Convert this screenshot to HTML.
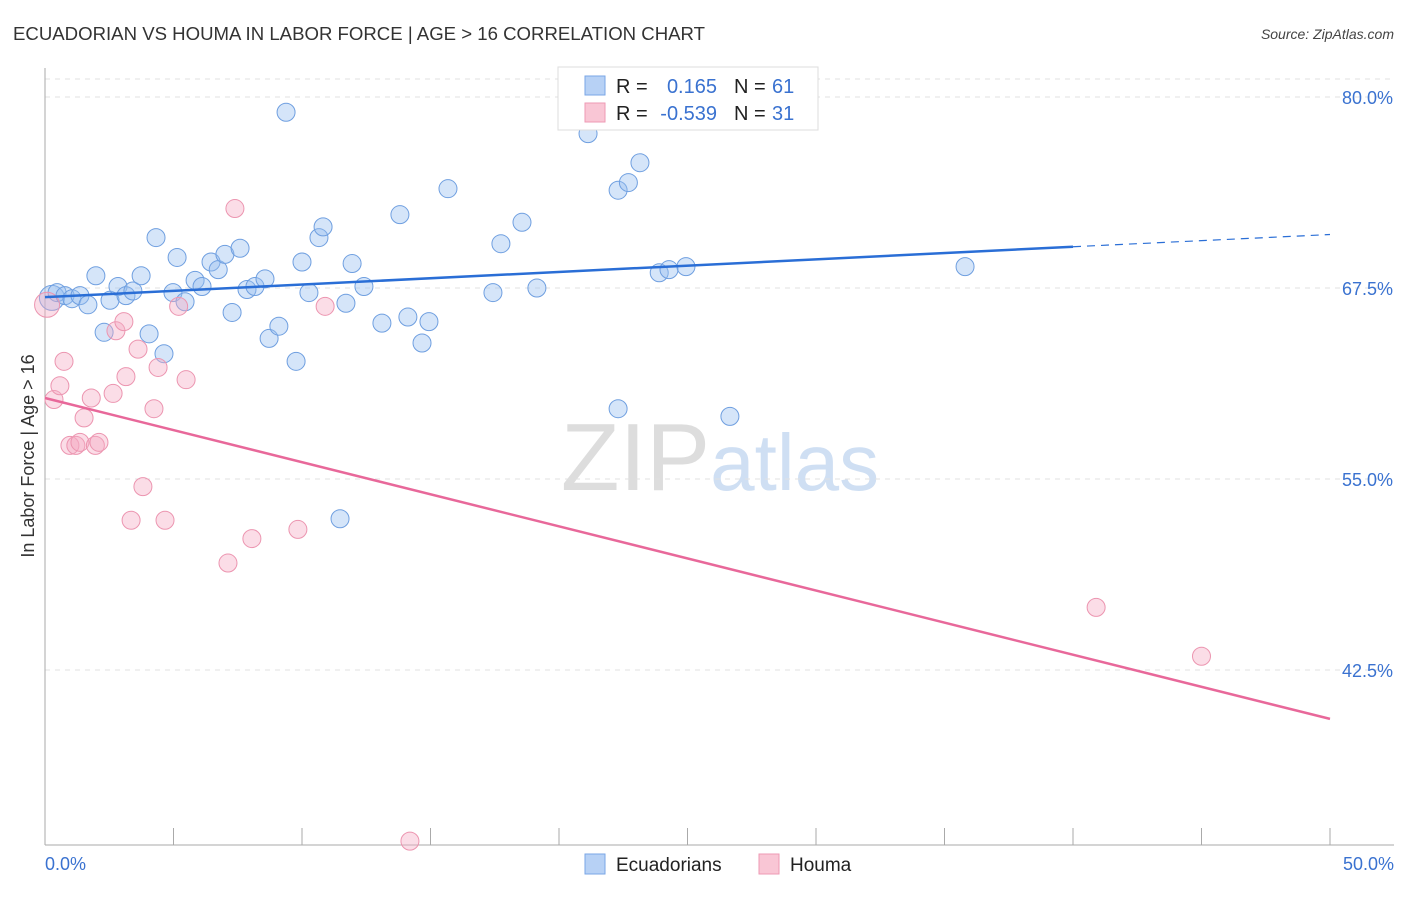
<!DOCTYPE html>
<html><head><meta charset="utf-8"><style>
body{margin:0;background:#fff;font-family:"Liberation Sans",sans-serif;}
svg text{font-family:"Liberation Sans",sans-serif;}
</style></head><body>
<svg id="chart" width="1406" height="892" xmlns="http://www.w3.org/2000/svg">
<text x="13" y="40" font-size="18.5" fill="#333" textLength="692" lengthAdjust="spacingAndGlyphs">ECUADORIAN VS HOUMA IN LABOR FORCE | AGE &gt; 16 CORRELATION CHART</text>
<text x="1394" y="39" font-size="14" font-style="italic" fill="#444" text-anchor="end">Source: ZipAtlas.com</text>
<text x="720" y="490" font-size="96" text-anchor="middle" fill="#ddd" font-family="Liberation Serif"><tspan>ZIP</tspan><tspan fill="#cfdff3" font-family="Liberation Sans" font-size="80">atlas</tspan></text>
<text transform="translate(34,456) rotate(-90)" font-size="18" fill="#333" text-anchor="middle">In Labor Force | Age &gt; 16</text>
<g id="grid"></g><g id="axes"></g><g id="marks"></g>
<g>
<rect x="558" y="67" width="260" height="63" fill="#fff" stroke="#ddd"/>
<rect x="585" y="76" width="20" height="19" fill="#b7d1f5" stroke="#7aa6e6"/>
<rect x="585" y="103" width="20" height="19" fill="#f9c6d5" stroke="#ee9ab4"/>
<text x="616" y="93" font-size="20" fill="#222">R =</text><text x="717" y="93" font-size="20" fill="#3a72d0" text-anchor="end">0.165</text>
<text x="734" y="93" font-size="20" fill="#222">N =</text><text x="772" y="93" font-size="20" fill="#3a72d0">61</text>
<text x="616" y="120" font-size="20" fill="#222">R =</text><text x="717" y="120" font-size="20" fill="#3a72d0" text-anchor="end">-0.539</text>
<text x="734" y="120" font-size="20" fill="#222">N =</text><text x="772" y="120" font-size="20" fill="#3a72d0">31</text>
</g>
<g>
<rect x="585" y="854" width="20" height="20" fill="#b7d1f5" stroke="#7aa6e6"/>
<text x="616" y="871" font-size="19" fill="#222">Ecuadorians</text>
<rect x="759" y="854" width="20" height="20" fill="#f9c6d5" stroke="#ee9ab4"/>
<text x="790" y="871" font-size="19" fill="#222">Houma</text>
</g>
</svg>
<script>
const yTicks=[80,67.5,55,42.5];
const yTickLabels=["80.0%","67.5%","55.0%","42.5%"];
const xTickLabels=["0.0%","50.0%"];
const blueX=[0.27,0.47,0.78,1.05,1.36,1.67,1.98,2.3,2.53,2.84,3.15,3.42,3.74,4.05,4.32,4.63,4.98,5.14,5.45,5.84,6.11,6.46,6.74,7.0,7.28,7.59,7.86,8.17,8.56,8.72,9.1,9.38,9.77,10.0,10.27,10.66,10.82,11.48,11.71,11.95,12.41,13.11,13.81,14.12,14.67,14.94,15.68,17.43,17.74,18.56,19.14,21.13,22.3,22.3,22.7,23.15,23.9,24.28,24.94,26.65,35.8];
const blueY=[66.85,67.2,67.0,66.8,67.0,66.4,68.3,64.6,66.7,67.6,67.0,67.3,68.3,64.5,70.8,63.2,67.2,69.5,66.6,68.0,67.6,69.2,68.7,69.7,65.9,70.1,67.4,67.6,68.1,64.2,65.0,79.0,62.7,69.2,67.2,70.8,71.5,52.4,66.5,69.1,67.6,65.2,72.3,65.6,63.9,65.3,74.0,67.2,70.4,71.8,67.5,77.6,59.6,73.9,74.4,75.7,68.5,68.7,68.9,59.1,68.9];
const pinkX=[0.08,0.35,0.58,0.74,0.97,1.2,1.36,1.52,1.8,1.96,2.1,2.65,2.76,3.07,3.15,3.35,3.62,3.81,4.24,4.4,4.67,5.2,5.49,7.12,7.39,8.05,9.84,10.9,14.2,40.9,45.0];
const pinkY=[66.4,60.2,61.1,62.7,57.2,57.2,57.4,59.0,60.3,57.2,57.4,60.6,64.7,65.3,61.7,52.3,63.5,54.5,59.6,62.3,52.3,66.3,61.5,49.5,72.7,51.1,51.7,66.3,31.3,46.6,43.4];
const blueTrend=[0,66.9,40,70.2,50,71.0];
const pinkTrend=[0,60.3,50,39.3];
const X=v=>45+v*25.7, Y=v=>97+(80-v)*15.28;
const NS="http://www.w3.org/2000/svg";
function mk(p,t,a){const e=document.createElementNS(NS,t);for(const k in a)e.setAttribute(k,a[k]);p.appendChild(e);return e;}
const grid=document.getElementById('grid'),axes=document.getElementById('axes'),marks=document.getElementById('marks');
yTicks.forEach((t,i)=>{
 const l=mk(grid,'line',{x1:45,x2:1394,y1:Y(t),y2:Y(t),stroke:'#e0e0e0','stroke-dasharray':'5,5'});
 
 
 const tx=mk(axes,'text',{x:1393,y:Y(t)+7,'font-size':18,fill:'#3a72d0','text-anchor':'end'});tx.textContent=yTickLabels[i];
 
 
});
mk(grid,'line',{x1:45,x2:1394,y1:79,y2:79,stroke:'#e0e0e0','stroke-dasharray':'5,5'});
const ya=mk(axes,'line',{x1:45,x2:45,y1:68,y2:845,stroke:'#aaa'});


const xa=mk(axes,'line',{x1:45,x2:1394,y1:845,y2:845,stroke:'#aaa'});


for(let i=0;i<=10;i++){const t=mk(axes,'line',{x1:X(i*5),x2:X(i*5),y1:828,y2:845,stroke:'#aaa'});
 
 }
[[0,'start',45],[1,'end',1394]].forEach(([i,a,x])=>{const t=mk(axes,'text',{x:x,y:870,'font-size':18,fill:'#3a72d0','text-anchor':a});t.textContent=xTickLabels[i];
 
 });
function dot(x,y,blue,i){const big=i===0;const c=mk(marks,'circle',{cx:X(x),cy:Y(y),r:big?12.5:9,fill:blue?'rgba(150,190,240,0.4)':'rgba(245,170,195,0.4)',stroke:blue?'#6f9fe0':'#ec95b0','stroke-width':1});
 
 }
blueX.forEach((x,i)=>dot(x,blueY[i],true,i));
pinkX.forEach((x,i)=>dot(x,pinkY[i],false,i));
const bl=mk(marks,'line',{x1:X(blueTrend[0]),y1:Y(blueTrend[1]),x2:X(blueTrend[2]),y2:Y(blueTrend[3]),stroke:'#2a6ed6','stroke-width':2.5});


const bd=mk(marks,'line',{x1:X(blueTrend[2]),y1:Y(blueTrend[3]),x2:X(blueTrend[4]),y2:Y(blueTrend[5]),stroke:'#2a6ed6','stroke-width':1.2,'stroke-dasharray':'8,6'});


const pl=mk(marks,'line',{x1:X(pinkTrend[0]),y1:Y(pinkTrend[1]),x2:X(pinkTrend[2]),y2:Y(pinkTrend[3]),stroke:'#e8689a','stroke-width':2.5});


</script>
</body></html>
